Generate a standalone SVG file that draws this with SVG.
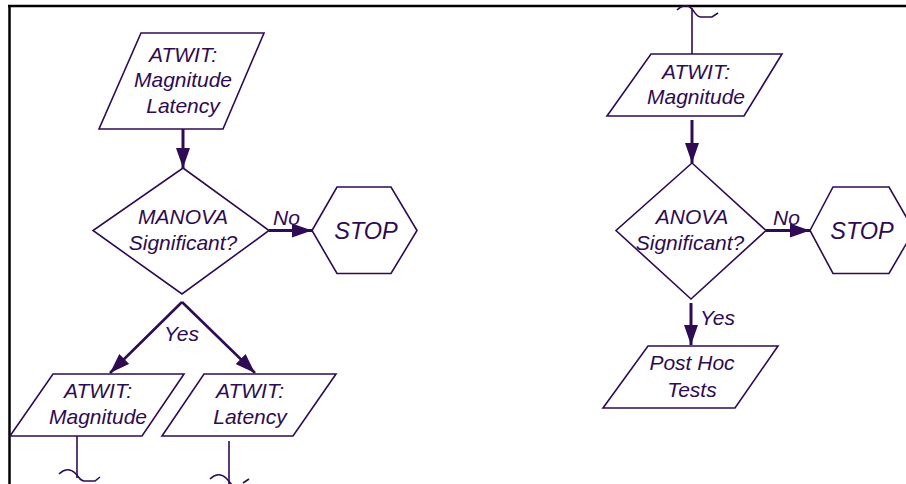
<svg xmlns="http://www.w3.org/2000/svg" width="906" height="484" viewBox="0 0 906 484">
<defs>
<marker id="ah" markerUnits="userSpaceOnUse" markerWidth="20" markerHeight="14" refX="20" refY="7" orient="auto" viewBox="0 0 20 14">
<path d="M0,0 L20,7 L0,14 z" fill="#2E0B52"/>
</marker>
<style>
.s{fill:#fff;stroke:#2E0B52;stroke-width:1.6}
.t{font-family:"Liberation Sans",Arial,sans-serif;font-style:italic;font-size:21px;fill:#2E0B52;text-anchor:middle}
.st{font-size:23.5px}
.l{font-family:"Liberation Sans",Arial,sans-serif;font-style:italic;font-size:21px;fill:#2E0B52}
.c{fill:none;stroke:#2E0B52;stroke-width:3}
.thin{fill:none;stroke:#2E0B52;stroke-width:1.6}
.fr{fill:none;stroke:#000;stroke-width:2.5}
</style>
</defs>
<rect width="906" height="484" fill="#fff"/>
<g id="frame">
<line class="fr" x1="8" y1="6" x2="906" y2="6"/>
<line class="fr" x1="9.5" y1="5" x2="9.5" y2="484"/>
</g>
<g id="connectors">
<line class="c" x1="183" y1="129" x2="183" y2="168" marker-end="url(#ah)"/>
<line class="c" x1="269" y1="230.5" x2="312" y2="230.5" marker-end="url(#ah)"/>
<line class="c" x1="182" y1="302" x2="110" y2="373" marker-end="url(#ah)" style="stroke-width:2.6"/>
<line class="c" x1="182" y1="302" x2="255" y2="373" marker-end="url(#ah)" style="stroke-width:2.6"/>
<line class="c" x1="692" y1="120" x2="692" y2="163" marker-end="url(#ah)"/>
<line class="c" x1="766" y1="230.5" x2="810" y2="230.5" marker-end="url(#ah)"/>
<line class="c" x1="691" y1="303" x2="691" y2="345" marker-end="url(#ah)"/>
<line class="thin" x1="77" y1="436" x2="77" y2="478"/>
<path class="thin" d="M59,474 C64,469 70,468 75,473 S80,481 84,481 L95,481 L100,477"/>
<line class="thin" x1="229" y1="441" x2="229" y2="484"/>
<path class="thin" d="M210,479 C215,474 221,473 226,478 S231,486 235,486 M243,483 L249,479"/>
<line class="thin" x1="692" y1="8" x2="692" y2="54"/>
<path class="thin" d="M677,10 C682,5 688,4 692,9 S697,17 701,17 L712,17 L718,13"/>
<text class="l" x="273" y="225">No</text>
<text class="l" x="164" y="341">Yes</text>
<text class="l" x="773" y="225">No</text>
<text class="l" x="700" y="325">Yes</text>
</g>
<g id="n1">
<polygon class="s" points="141,33 264,33 223,129 99,129"/>
<text class="t" x="183" y="62">ATWIT:</text>
<text class="t" x="183" y="87">Magnitude</text>
<text class="t" x="183" y="113">Latency</text>
</g>
<g id="n2">
<polygon class="s" points="183,168 269,230.5 182,294 93,230.5"/>
<text class="t" x="183" y="224">MANOVA</text>
<text class="t" x="183" y="250">Significant?</text>
</g>
<g id="n3">
<polygon class="s" points="312,230.5 337,187 391,187 417,230.5 391,273.5 337,273.5"/>
<text class="t st" x="366" y="239">STOP</text>
</g>
<g id="n4">
<polygon class="s" points="53,374 184,374 142,436 10,436"/>
<text class="t" x="98" y="398">ATWIT:</text>
<text class="t" x="98" y="424">Magnitude</text>
</g>
<g id="n5">
<polygon class="s" points="204,374 336,374 293,436 162,436"/>
<text class="t" x="250" y="398">ATWIT:</text>
<text class="t" x="250" y="424">Latency</text>
</g>
<g id="n6">
<polygon class="s" points="651,54 782,54 744,116 607,116"/>
<text class="t" x="696" y="79">ATWIT:</text>
<text class="t" x="696" y="104">Magnitude</text>
</g>
<g id="n7">
<polygon class="s" points="692,163 766,230.5 691,299 616,230.5"/>
<text class="t" x="692" y="224">ANOVA</text>
<text class="t" x="690" y="250">Significant?</text>
</g>
<g id="n8">
<polygon class="s" points="810,230.5 833,187 889,187 914,230.5 889,273.5 833,273.5"/>
<text class="t st" x="862" y="239">STOP</text>
</g>
<g id="n9">
<polygon class="s" points="648,346 778,346 735,408 603,408"/>
<text class="t" x="692" y="370">Post Hoc</text>
<text class="t" x="692" y="397">Tests</text>
</g>
</svg>
